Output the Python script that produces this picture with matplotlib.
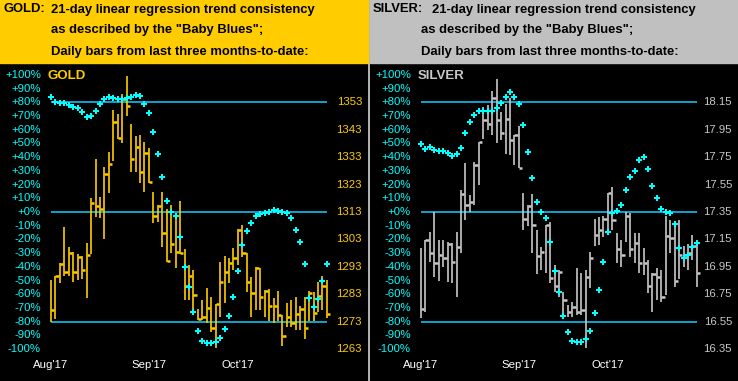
import numpy as np
import matplotlib
matplotlib.use('Agg')
import matplotlib.pyplot as plt
from matplotlib.patches import Rectangle
import matplotlib.transforms as mtransforms

plt.rcParams['font.family'] = ['Liberation Sans', 'DejaVu Sans']

# data (daily bars Aug 1 .. Oct 27, 2017)
months = ["Aug'17", "Sep'17", "Oct'17"]
month_starts = [0, 22, 42]
pct_ticks = list(range(100, -101, -10))

gold_high = [1288.2, 1289.7, 1294.5, 1307.4, 1300.2, 1298.3, 1297.6, 1297.0, 1301.6, 1318.0,
             1332.2, 1318.6, 1329.3, 1334.8, 1350.2, 1348.6, 1355.9, 1362.7, 1345.0, 1340.7,
             1341.0, 1338.6, 1336.2, 1320.4, 1315.6, 1320.4, 1314.0, 1315.5, 1310.5, 1317.0,
             1299.4, 1293.7, 1291.9, 1277.5, 1280.9, 1285.2, 1282.1, 1279.3, 1294.9, 1297.0,
             1296.4, 1299.8, 1306.7, 1308.3, 1297.9, 1289.4, 1293.1, 1292.5, 1284.6, 1284.8,
             1281.5, 1284.3, 1275.5, 1279.7, 1280.9, 1282.1, 1278.7, 1281.9, 1284.3, 1284.0,
             1287.6, 1289.7, 1288.2]
gold_low = [1272.8, 1273.9, 1287.0, 1289.5, 1289.5, 1287.6, 1288.2, 1288.5, 1281.8, 1297.7,
            1311.0, 1310.7, 1303.0, 1320.0, 1331.7, 1339.6, 1338.0, 1348.0, 1327.5, 1327.5,
            1323.5, 1320.2, 1323.5, 1308.9, 1309.5, 1300.4, 1294.9, 1298.0, 1292.5, 1297.8,
            1280.9, 1280.9, 1275.4, 1273.6, 1273.6, 1272.4, 1269.4, 1263.3, 1274.9, 1279.7,
            1287.2, 1291.9, 1293.7, 1296.7, 1284.0, 1274.9, 1277.3, 1277.3, 1274.9, 1273.1,
            1272.4, 1273.1, 1264.2, 1271.2, 1271.2, 1270.0, 1270.0, 1266.6, 1273.1, 1273.1,
            1276.7, 1277.3, 1274.2]
gold_close = [1277.3, 1289.5, 1294.2, 1291.0, 1298.0, 1291.0, 1296.7, 1291.9, 1297.4, 1316.2,
              1315.3, 1314.1, 1327.0, 1330.6, 1345.7, 1339.9, 1354.2, 1351.8, 1332.2, 1336.6,
              1327.7, 1334.4, 1324.0, 1311.7, 1315.3, 1305.3, 1295.0, 1301.4, 1298.6, 1297.9,
              1286.2, 1289.8, 1282.7, 1273.9, 1274.6, 1277.9, 1270.8, 1279.3, 1287.6, 1291.0,
              1294.5, 1296.1, 1306.4, 1297.9, 1287.6, 1283.3, 1292.5, 1282.1, 1284.3, 1278.7,
              1278.7, 1275.5, 1267.9, 1274.9, 1272.4, 1275.8, 1277.5, 1270.6, 1283.6, 1276.1,
              1282.4, 1286.2, 1275.7]
gold_trend = [83.6, 80.4, 79.7, 79.2, 78.0, 76.7, 75.5, 73.1, 69.5, 70.2,
              73.8, 78.4, 82.1, 83.6, 82.8, 82.4, 82.1, 82.8, 84.0, 85.3,
              84.8, 78.7, 72.4, 58.5, 42.3, 25.8, 8.0, 0.2, -2.7, -18.5,
              -39.8, -54.4, -72.6, -86.5, -93.8, -95.3, -95.3, -94.8, -92.1, -85.0,
              -75.6, -61.7, -42.8, -23.8, -13.6, -7.9, -2.7, -1.5, -0.5, 0.2,
              1.5, 1.0, 0.2, -0.5, -4.1, -13.1, -21.6, -38.1, -62.5, -69.0,
              -63.4, -50.1, -38.1]
gold_price_ticks = [1353, 1343, 1333, 1323, 1313, 1303, 1293, 1283, 1273, 1263]

silver_high = [17.085, 17.146, 17.207, 17.352, 17.146, 17.146, 17.134, 17.122, 17.207, 17.510,
               17.707, 17.474, 17.714, 17.862, 18.118, 18.130, 18.230, 18.320, 18.080, 18.140,
               18.180, 17.910, 17.980, 17.488, 17.400, 17.479, 17.219, 17.094, 17.255, 17.280,
               16.964, 16.927, 16.770, 16.672, 16.696, 16.940, 16.903, 16.927, 17.061, 17.300,
               17.316, 17.320, 17.486, 17.530, 17.200, 17.146, 17.350, 17.340, 17.194, 17.194,
               17.085, 17.000, 16.903, 16.940, 16.927, 17.320, 17.290, 17.280, 17.290, 17.100,
               17.120, 17.180, 17.146]
silver_low = [16.575, 16.624, 16.988, 16.874, 16.850, 16.952, 16.842, 16.835, 16.733, 17.049,
              17.292, 17.352, 17.401, 17.547, 17.882, 17.948, 17.910, 17.850, 17.877, 17.775,
              17.763, 17.690, 17.672, 17.220, 17.250, 17.050, 16.900, 16.927, 16.904, 16.830,
              16.769, 16.733, 16.587, 16.587, 16.587, 16.600, 16.600, 16.356, 16.794, 17.100,
              17.110, 17.170, 17.220, 17.220, 16.980, 16.951, 17.130, 17.020, 16.976, 16.903,
              16.890, 16.757, 16.623, 16.708, 16.696, 16.745, 17.050, 16.806, 16.860, 16.950,
              16.930, 17.000, 16.806]
silver_close = [16.640, 17.146, 17.049, 16.976, 17.037, 17.012, 17.117, 16.988, 17.093, 17.479,
                17.401, 17.425, 17.690, 17.857, 18.021, 17.990, 18.180, 18.020, 17.923, 18.026,
                17.875, 17.910, 17.672, 17.300, 17.396, 17.255, 17.030, 17.061, 17.255, 16.870,
                16.810, 16.910, 16.708, 16.623, 16.655, 16.623, 16.635, 16.874, 17.017, 17.180,
                17.220, 17.300, 17.486, 17.290, 17.080, 17.037, 17.320, 17.080, 17.126, 16.976,
                16.976, 16.813, 16.895, 16.878, 16.733, 17.177, 17.158, 16.850, 17.040, 17.020,
                17.050, 17.105, 16.903]
silver_trend = [49.3, 45.9, 47.1, 45.2, 44.7, 44.7, 43.2, 41.1, 42.0, 46.9,
                57.8, 65.9, 70.7, 73.9, 73.9, 73.9, 73.9, 75.5, 79.7, 84.0,
                87.7, 84.0, 78.4, 63.4, 43.9, 25.0, 7.5, 0.2, -4.1, -21.6,
                -42.8, -58.0, -75.8, -87.5, -94.0, -94.8, -94.8, -92.8, -86.5, -73.6,
                -56.9, -36.4, -14.6, -0.5, 1.0, 5.1, 16.0, 25.5, 29.9, 37.9,
                40.3, 31.3, 19.2, 10.4, 2.2, 0.2, -0.5, -8.7, -26.2, -33.3,
                -31.1, -25.3, -22.4]
silver_price_ticks = [18.15, 17.95, 17.75, 17.55, 17.35, 17.15, 16.95, 16.75, 16.55, 16.35]

W, H = 738, 381
HEAD = 63
fig = plt.figure(figsize=(W / 100, H / 100), dpi=100)
fig.patch.set_facecolor('#b0b0b0')

LINE_C = '#10bff0'
DOT_C = '#00ffff'


def panel(x0, w, head_color, bar_color, label_color, name, title,
          high, low, close, trend, price_ticks, mid, scale, fmt):
    # header block
    fig.patches.append(Rectangle((x0 / W, 1 - HEAD / H), w / W, HEAD / H,
                                 transform=fig.transFigure, color=head_color, zorder=0))
    lines = title.split('\n')
    fig.text((x0 + 3) / W, 1 - 9.5 / H, name + ':', fontsize=9.4, fontweight='bold',
             va='center', ha='left')
    tx = [x0 + 51, x0 + 51, x0 + 51] if name == 'GOLD' else [x0 + 62, x0 + 51, x0 + 51]
    for k, s in enumerate(lines):
        fig.text(tx[k] / W, 1 - (9.5 + 21 * k) / H, s, fontsize=9.4, fontweight='bold',
                 va='center', ha='left')

    ax = fig.add_axes([x0 / W, 0, w / W, (H - HEAD) / H])
    ax.set_facecolor('black')
    for sp in ax.spines.values():
        sp.set_visible(False)
    ax.set_xticks([])
    ax.set_yticks([])
    step = 4.45
    off = 51
    ax.set_xlim(-off / step, (w - off) / step)
    ax.set_ylim((212 - H) / 1.372, (212 - HEAD) / 1.372)

    n = len(close)
    idx = np.arange(n)
    to_pct = lambda p: (np.asarray(p) - mid) * scale

    ax.hlines([80, 0, -80], 0, n - 1, color=LINE_C, lw=1.2, zorder=1)
    ax.vlines(idx, to_pct(low), to_pct(high), color=bar_color, lw=1.2, zorder=2)
    ax.hlines(to_pct(close), idx, idx + 0.75, color=bar_color, lw=1.8, zorder=2)
    ax.plot(idx, trend, 'P', color=DOT_C, ms=5, mew=0, zorder=3)

    tr = mtransforms.blended_transform_factory(ax.transAxes, ax.transData)
    for p in pct_ticks:
        ax.text(41 / w, p, f'{p:+d}%', transform=tr, ha='right', va='center',
                color=DOT_C, fontsize=8.2)
    for p in price_ticks:
        ax.text((w - 6) / w, to_pct(p), fmt.format(p), transform=tr, ha='right',
                va='center', color=label_color, fontsize=8.2)
    for m, i in zip(months, month_starts):
        ax.text(i, (212 - 365) / 1.372, m, ha='center', va='center', color='white',
                fontsize=8.2)
    ax.text(-0.8, 99.2, name, ha='left', va='center', color=bar_color, fontsize=9.5,
            fontweight='bold')


title = ('21-day linear regression trend consistency\n'
         'as described by the "Baby Blues";\n'
         'Daily bars from last three months-to-date:')

panel(0, 368, '#ffcc00', '#ffcc00', '#ffcc00', 'GOLD', title,
      gold_high, gold_low, gold_close, gold_trend, gold_price_ticks, 1313, 2.0, '{:d}')
panel(370, 368, '#c0c0c0', '#c8c8c8', '#c8c8c8', 'SILVER', title,
      silver_high, silver_low, silver_close, silver_trend, silver_price_ticks, 17.35, 100.0,
      '{:.2f}')

fig.savefig('out.png', dpi=100, facecolor=fig.get_facecolor())
